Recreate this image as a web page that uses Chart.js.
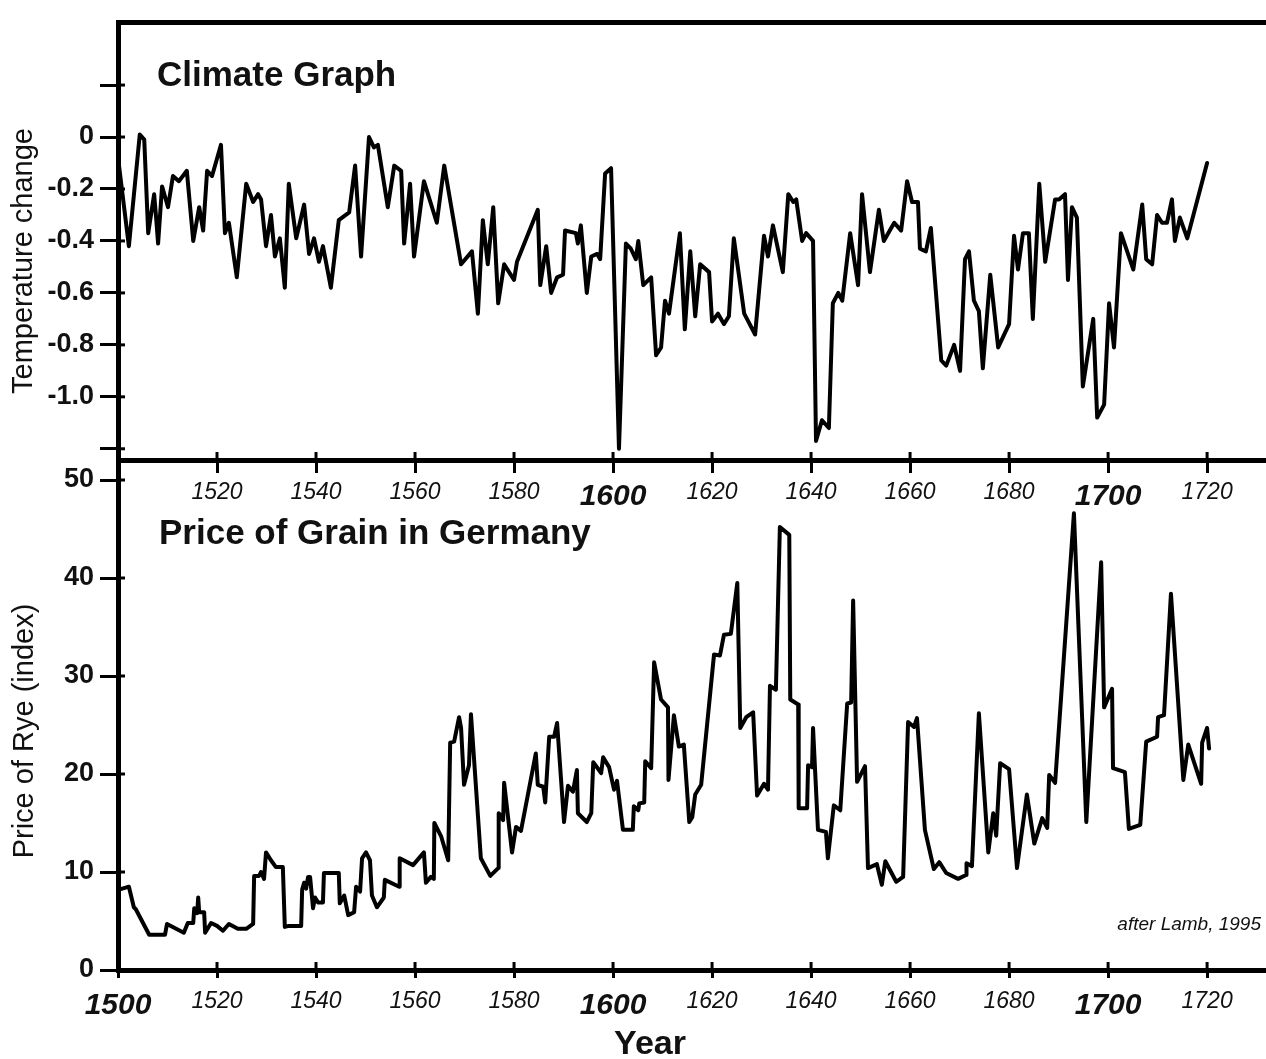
<!DOCTYPE html>
<html>
<head>
<meta charset="utf-8">
<script src="https://cdn.jsdelivr.net/npm/chart.js@4.4.1/dist/chart.umd.min.js"></script>
<style>
html,body{margin:0;padding:0;background:#fff;}
#wrap{position:relative;width:1266px;height:1059px;overflow:hidden;background:#fff;}
#wrap canvas{position:absolute;left:0;top:0;}
</style>
</head>
<body>
<div id="wrap">
<canvas id="climate" width="1266" height="1059"></canvas>
<canvas id="rye" width="1266" height="1059"></canvas>
</div>
<script>
// ---------- data ----------
const climateYears = [
 1500.2,1502.2,1504.4,1505.3,1506.1,1507.3,1507.7,1508.1,1508.9,1509.5,
 1510.1,1511.1,1512.3,1513.9,1515.2,1516.4,1517.2,1518.0,1519.0,1520.8,
 1521.6,1522.4,1524.0,1525.9,1527.3,1528.3,1528.9,1529.9,1530.9,1531.7,
 1532.7,1533.7,1534.5,1536.0,1537.6,1538.6,1539.6,1540.6,1541.4,1543.0,
 1544.6,1546.7,1547.9,1549.1,1550.7,1551.7,1552.5,1554.5,1555.8,1557.2,
 1557.8,1559.0,1559.8,1561.8,1564.4,1565.9,1569.3,1571.5,1572.7,1573.7,
 1574.7,1575.8,1576.8,1578.0,1580.0,1580.6,1584.8,1585.3,1586.5,1587.5,
 1588.7,1589.9,1590.3,1592.5,1592.9,1593.5,1594.7,1595.6,1596.8,1597.4,
 1598.4,1599.6,1601.2,1602.6,1603.6,1604.6,1605.1,1606.1,1607.7,1608.7,
 1609.7,1610.5,1611.3,1613.5,1614.5,1615.6,1616.6,1617.6,1619.4,1620.0,
 1621.2,1622.4,1623.4,1624.4,1626.5,1628.7,1630.5,1631.3,1632.3,1634.3,
 1635.4,1636.4,1637.0,1638.2,1639.0,1640.4,1641.0,1642.2,1643.6,1644.4,
 1645.5,1646.3,1647.9,1649.5,1650.3,1651.9,1653.7,1654.7,1656.8,1658.2,
 1659.4,1660.4,1661.6,1662.0,1663.2,1664.2,1666.3,1667.3,1668.9,1670.1,
 1671.1,1671.9,1672.9,1673.9,1674.7,1676.2,1677.8,1680.0,1681.0,1681.8,
 1682.8,1684.0,1684.8,1686.1,1687.3,1689.3,1690.1,1691.3,1691.9,1692.7,
 1693.7,1694.9,1697.0,1697.8,1699.2,1700.2,1701.2,1702.6,1705.1,1706.9,
 1707.7,1708.9,1709.9,1710.9,1711.9,1712.9,1713.5,1714.5,1716.0,1720.0
];
const climateTemps = [
 -0.11,-0.42,0.01,-0.01,-0.37,-0.22,-0.31,-0.41,-0.19,-0.23,
 -0.27,-0.15,-0.17,-0.13,-0.40,-0.27,-0.36,-0.13,-0.15,-0.03,
 -0.37,-0.33,-0.54,-0.18,-0.25,-0.22,-0.24,-0.42,-0.30,-0.46,
 -0.39,-0.58,-0.18,-0.39,-0.26,-0.45,-0.39,-0.48,-0.42,-0.58,
 -0.32,-0.29,-0.11,-0.46,0.00,-0.04,-0.03,-0.27,-0.11,-0.13,
 -0.41,-0.18,-0.46,-0.17,-0.33,-0.11,-0.49,-0.44,-0.68,-0.32,
 -0.49,-0.27,-0.64,-0.49,-0.55,-0.48,-0.28,-0.57,-0.42,-0.60,
 -0.54,-0.53,-0.36,-0.37,-0.41,-0.34,-0.60,-0.46,-0.45,-0.47,
 -0.14,-0.12,-1.20,-0.41,-0.43,-0.47,-0.40,-0.57,-0.54,-0.84,
 -0.81,-0.63,-0.68,-0.37,-0.74,-0.44,-0.69,-0.49,-0.52,-0.71,
 -0.68,-0.72,-0.69,-0.39,-0.68,-0.76,-0.38,-0.46,-0.34,-0.52,
 -0.22,-0.25,-0.24,-0.40,-0.37,-0.40,-1.17,-1.09,-1.12,-0.64,
 -0.60,-0.63,-0.37,-0.57,-0.22,-0.52,-0.28,-0.40,-0.33,-0.36,
 -0.17,-0.25,-0.25,-0.43,-0.44,-0.35,-0.86,-0.88,-0.80,-0.90,
 -0.47,-0.44,-0.63,-0.67,-0.89,-0.53,-0.81,-0.72,-0.38,-0.51,
 -0.37,-0.37,-0.70,-0.18,-0.48,-0.24,-0.24,-0.22,-0.55,-0.27,
 -0.31,-0.96,-0.70,-1.08,-1.03,-0.64,-0.81,-0.37,-0.51,-0.26,
 -0.47,-0.49,-0.30,-0.33,-0.33,-0.24,-0.40,-0.31,-0.39,-0.10
];
const ryeYears = [
 1500.2,1502.2,1503.2,1503.6,1506.3,1509.5,1509.9,1513.3,1514.1,1515.2,
 1515.4,1516.0,1516.2,1516.4,1517.4,1517.6,1518.8,1520.0,1521.2,1522.4,
 1524.2,1525.9,1527.3,1527.5,1528.5,1528.9,1529.5,1529.9,1530.9,1531.9,
 1533.3,1533.7,1534.5,1537.0,1537.2,1537.6,1538.0,1538.4,1538.8,1539.4,
 1539.8,1540.4,1541.4,1541.6,1544.6,1544.8,1545.7,1546.5,1547.7,1548.1,
 1548.9,1549.3,1550.1,1550.9,1551.3,1552.3,1553.7,1553.9,1556.8,1556.9,
 1559.6,1561.8,1562.2,1563.2,1563.8,1563.9,1565.3,1566.7,1567.1,1567.9,
 1568.9,1569.3,1569.9,1570.9,1571.3,1573.3,1575.2,1576.8,1576.9,1577.8,
 1578.0,1579.6,1580.4,1581.4,1584.4,1584.8,1585.9,1586.3,1587.1,1588.1,
 1588.7,1590.1,1590.9,1591.9,1592.7,1592.9,1594.7,1595.6,1596.0,1597.6,
 1598.0,1599.2,1600.2,1600.8,1602.0,1604.0,1604.2,1605.1,1605.3,1606.3,
 1606.5,1607.7,1608.3,1609.7,1611.1,1611.2,1612.3,1613.3,1614.3,1615.4,
 1616.0,1616.6,1617.8,1620.4,1621.6,1622.4,1623.8,1625.1,1625.7,1626.9,
 1628.3,1629.1,1630.5,1631.3,1631.7,1632.9,1633.7,1635.6,1635.8,1637.4,
 1637.5,1639.2,1639.4,1640.2,1640.4,1641.4,1643.0,1643.4,1644.6,1645.9,
 1647.3,1648.1,1648.5,1649.3,1650.9,1651.5,1653.3,1654.3,1655.0,1657.2,
 1658.6,1659.6,1660.8,1661.4,1663.0,1664.8,1665.9,1667.3,1669.7,1671.3,
 1671.4,1672.5,1673.9,1675.8,1676.8,1677.4,1678.2,1680.0,1681.6,1683.6,
 1685.1,1686.7,1687.7,1688.1,1689.3,1693.1,1695.6,1698.6,1699.2,1700.8,
 1701.0,1703.4,1704.2,1706.5,1707.7,1709.9,1710.1,1711.3,1712.7,1715.2,
 1716.2,1718.8,1719.0,1720.0,1720.4
];
const ryePrices = [
 8.2,8.5,6.4,6.2,3.6,3.6,4.7,3.8,4.8,4.8,
 6.3,5.8,7.4,5.9,5.9,3.8,4.8,4.5,4.0,4.7,
 4.2,4.2,4.7,9.6,9.6,10.0,9.3,12.0,11.2,10.5,
 10.5,4.4,4.5,4.5,8.2,8.9,8.3,9.5,9.5,6.3,
 7.4,6.9,6.9,9.9,9.9,6.8,7.6,5.6,5.9,8.5,
 8.0,11.4,12.0,11.2,7.6,6.4,7.4,9.2,8.5,11.4,
 10.7,12.0,8.9,9.5,9.3,15.0,13.6,11.2,23.2,23.3,
 25.8,24.7,18.9,20.9,26.1,11.4,9.6,10.4,16.0,15.3,
 19.1,12.0,14.6,14.2,22.1,18.9,18.7,17.1,23.8,23.8,
 25.2,15.1,18.8,18.2,20.4,16.0,15.1,16.0,21.2,20.1,
 21.7,20.7,18.4,19.3,14.3,14.3,16.7,16.3,17.0,17.1,
 21.3,20.6,31.4,27.6,26.8,19.4,26.0,22.8,23.0,15.1,
 15.6,17.9,18.9,32.2,32.1,34.2,34.3,39.5,24.7,25.8,
 26.3,17.8,19.0,18.4,29.0,28.6,45.2,44.4,27.6,27.1,
 16.5,16.5,20.9,20.7,24.7,14.3,14.1,11.4,16.8,16.3,
 27.2,27.3,37.7,19.2,20.8,10.4,10.8,8.7,11.1,9.0,
 9.5,25.3,24.8,25.7,14.3,10.3,11.0,9.9,9.3,9.7,
 10.9,10.6,26.2,12.0,16.0,13.7,21.1,20.5,10.4,17.9,
 12.9,15.5,14.5,19.9,19.1,46.6,15.1,41.6,26.8,28.7,
 20.6,20.2,14.4,14.8,23.3,23.8,25.8,26.0,38.4,19.4,
 23.0,19.0,23.2,24.7,22.6
];
const tempTicks = [0.2, 0, -0.2, -0.4, -0.6, -0.8, -1.0, -1.2];
const tempTickLabels = ['', '0', '-0.2', '-0.4', '-0.6', '-0.8', '-1.0', ''];
const priceTicks = [0, 10, 20, 30, 40, 50];
const priceTickLabels = ['0', '10', '20', '30', '40', '50'];
const topYearTicks = [1520, 1540, 1560, 1580, 1600, 1620, 1640, 1660, 1680, 1700, 1720];
const bottomYearTicks = [1500, 1520, 1540, 1560, 1580, 1600, 1620, 1640, 1660, 1680, 1700, 1720];

// ---------- styling ----------
const FAM = "'Liberation Sans', Arial, Helvetica, sans-serif";
const INK = '#000';
Chart.defaults.font.family = FAM;
Chart.defaults.color = INK;

function yearFont(c) {
  const v = c.tick ? c.tick.value : 0;
  return v % 100 === 0
    ? { family: FAM, size: 30, weight: 'bold', style: 'italic' }
    : { family: FAM, size: 23, weight: 'normal', style: 'italic' };
}

const decor = {
  id: 'decor',
  afterDraw(chart, args, opts) {
    const ctx = chart.ctx;
    const area = chart.chartArea;
    ctx.save();
    ctx.strokeStyle = '#000';
    ctx.lineWidth = 3;
    (opts.stubs || []).forEach(s => {
      const sc = chart.scales[s.scale];
      s.values.forEach(v => {
        const p = sc.getPixelForValue(v);
        ctx.beginPath();
        if (sc.isHorizontal()) { ctx.moveTo(p, area.bottom); ctx.lineTo(p, area.bottom - s.len); }
        else { ctx.moveTo(area.left, p); ctx.lineTo(area.left + s.len, p); }
        ctx.stroke();
      });
    });
    (opts.texts || []).forEach(t => {
      ctx.save();
      ctx.font = t.font;
      ctx.fillStyle = '#111';
      ctx.textAlign = t.align || 'left';
      ctx.textBaseline = 'alphabetic';
      ctx.translate(t.x, t.y);
      if (t.rot) ctx.rotate(t.rot);
      ctx.fillText(t.text, 0, 0);
      ctx.restore();
    });
    ctx.restore();
  }
};

const X_MIN = 1500, X_MAX = 1731.9;

function lineDataset(xs, ys) {
  return {
    data: xs.map((x, i) => ({ x: x, y: ys[i] })),
    borderColor: '#000',
    borderWidth: 4,
    pointRadius: 0,
    tension: 0,
    fill: false,
    borderJoinStyle: 'round',
    borderCapStyle: 'round'
  };
}

// ---------- top panel: climate ----------
new Chart(document.getElementById('climate'), {
  type: 'line',
  data: { datasets: [lineDataset(climateYears, climateTemps)] },
  options: {
    responsive: false, animation: false, devicePixelRatio: 1,
    layout: { padding: 0 },
    plugins: {
      legend: { display: false }, tooltip: { enabled: false },
      decor: {
        stubs: [
          { scale: 'y', values: tempTicks, len: 7 },
          { scale: 'x', values: topYearTicks, len: 9 }
        ],
        texts: [
          { text: 'Climate Graph', x: 157, y: 86, font: 'bold 35px ' + FAM },
          { text: 'Temperature change', x: 32, y: 261, rot: -Math.PI / 2, align: 'center', font: '29px ' + FAM }
        ]
      }
    },
    scales: {
      x: {
        type: 'linear', position: 'bottom', min: X_MIN, max: X_MAX,
        afterBuildTicks: s => { s.ticks = topYearTicks.map(v => ({ value: v })); },
        afterFit: s => { s.height = 598; },
        grid: { drawOnChartArea: false, drawTicks: true, tickLength: 12, color: '#000', lineWidth: 3 },
        border: { display: true, color: '#000', width: 5 },
        ticks: { autoSkip: false, maxRotation: 0, padding: 6, color: '#111', font: yearFont, callback: v => String(v) }
      },
      xTop: {
        type: 'linear', position: 'top', min: X_MIN, max: X_MAX,
        afterFit: s => { s.height = 10; },
        grid: { display: false }, ticks: { display: false },
        border: { display: true, color: '#000', width: 5 }
      },
      y: {
        type: 'linear', position: 'left', min: -1.247, max: 0.442,
        afterBuildTicks: s => { s.ticks = tempTicks.map(v => ({ value: v })); },
        afterFit: s => { s.width = 118; },
        grid: { drawOnChartArea: false, drawTicks: true, tickLength: 18, color: '#000', lineWidth: 3 },
        border: { display: true, color: '#000', width: 5 },
        ticks: { padding: 6, color: '#111', font: { family: FAM, size: 27, weight: 'bold' }, callback: (v, i) => tempTickLabels[i] }
      }
    }
  },
  plugins: [decor]
});

// ---------- bottom panel: price of rye ----------
new Chart(document.getElementById('rye'), {
  type: 'line',
  data: { datasets: [lineDataset(ryeYears, ryePrices)] },
  options: {
    responsive: false, animation: false, devicePixelRatio: 1,
    layout: { padding: { top: 461, left: 0, right: 0, bottom: 0 } },
    plugins: {
      legend: { display: false }, tooltip: { enabled: false },
      decor: {
        stubs: [
          { scale: 'y', values: priceTicks.slice(1), len: 7 },
          { scale: 'x', values: bottomYearTicks.slice(1), len: 8 }
        ],
        texts: [
          { text: 'Price of Grain in Germany', x: 159, y: 544, font: 'bold 35px ' + FAM },
          { text: 'Price of Rye (index)', x: 33, y: 731, rot: -Math.PI / 2, align: 'center', font: '29px ' + FAM },
          { text: 'Year', x: 650, y: 1054, align: 'center', font: 'bold 34px ' + FAM },
          { text: 'after Lamb, 1995', x: 1261, y: 930, align: 'right', font: 'italic 19px ' + FAM }
        ]
      }
    },
    scales: {
      x: {
        type: 'linear', position: 'bottom', min: X_MIN, max: X_MAX,
        afterBuildTicks: s => { s.ticks = bottomYearTicks.map(v => ({ value: v })); },
        afterFit: s => { s.height = 89; },
        grid: { drawOnChartArea: false, drawTicks: true, tickLength: 8, color: '#000', lineWidth: 3 },
        border: { display: true, color: '#000', width: 5 },
        ticks: { autoSkip: false, maxRotation: 0, padding: 10, color: '#111', font: yearFont, callback: v => String(v) }
      },
      y: {
        type: 'linear', position: 'left', min: 0, max: 51.94,
        afterBuildTicks: s => { s.ticks = priceTicks.map(v => ({ value: v })); },
        afterFit: s => { s.width = 118; },
        grid: { drawOnChartArea: false, drawTicks: true, tickLength: 18, color: '#000', lineWidth: 3 },
        border: { display: true, color: '#000', width: 5 },
        ticks: { padding: 6, color: '#111', font: { family: FAM, size: 27, weight: 'bold' }, callback: (v, i) => priceTickLabels[i] }
      }
    }
  },
  plugins: [decor]
});
</script>
</body>
</html>
